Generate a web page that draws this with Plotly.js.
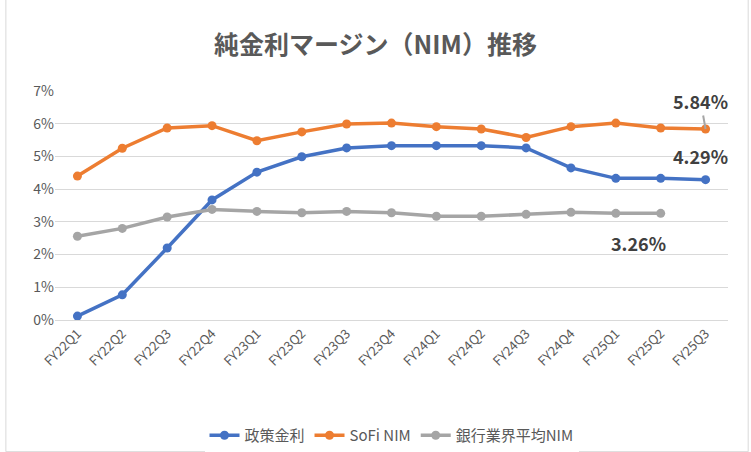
<!DOCTYPE html>
<html>
<head>
<meta charset="utf-8">
<script src="https://cdn.plot.ly/plotly-3.0.1.min.js"></script>
<style>body{margin:0;}#chart{width:751px;height:452px;}</style>
</head>
<body>
<div id="chart"></div>
<script>
const quarters = ['FY22Q1','FY22Q2','FY22Q3','FY22Q4','FY23Q1','FY23Q2','FY23Q3','FY23Q4','FY24Q1','FY24Q2','FY24Q3','FY24Q4','FY25Q1','FY25Q2','FY25Q3'];
const policyRate = [0.12,0.77,2.2,3.67,4.52,4.99,5.26,5.33,5.33,5.33,5.26,4.65,4.33,4.33,4.29];
const sofiNim = [4.4,5.25,5.87,5.94,5.48,5.75,5.99,6.02,5.91,5.84,5.58,5.91,6.02,5.87,5.84];
const bankNim = [2.56,2.8,3.15,3.38,3.32,3.28,3.32,3.28,3.17,3.17,3.23,3.29,3.26,3.26,null];

const font = {family: 'Noto Sans CJK JP, Noto Sans, sans-serif', color: '#595959'};

function series(name, y, color) {
    return {
        type: 'scatter', mode: 'lines+markers', name: name,
        x: quarters, y: y,
        line: {color: color, width: 3.5},
        marker: {color: color, size: 9}
    };
}

const data = [
    series('政策金利', policyRate, '#4472C4'),
    series('SoFi NIM', sofiNim, '#ED7D31'),
    series('銀行業界平均NIM', bankNim, '#A5A5A5')
];

const labelFont = {family: font.family, size: 18, color: '#404040', weight: 'bold'};

const layout = {
    width: 751, height: 452,
    paper_bgcolor: 'white', plot_bgcolor: 'white',
    font: font,
    title: {text: '<b>純金利マージン（NIM）推移</b>', font: {family: font.family, size: 25, color: '#595959'}, x: 0.5, y: 0.92},
    margin: {l: 55, r: 23, t: 91, b: 132},
    xaxis: {
        tickangle: -45, tickfont: {size: 13, color: '#595959'},
        showgrid: false, showline: true, linecolor: '#d9d9d9', range: [-0.5, 14.5]
    },
    yaxis: {
        range: [0, 7], dtick: 1, ticksuffix: '%',
        tickfont: {size: 14, color: '#595959'},
        gridcolor: '#d9d9d9', zeroline: false
    },
    showlegend: true,
    legend: {orientation: 'h', x: 0.5, xanchor: 'center', y: 0, yanchor: 'bottom', yref: 'container', font: {size: 15, color: '#595959'}},
    annotations: [
        {x: 14, y: sofiNim[14], text: sofiNim[14].toFixed(2) + '%', showarrow: true, ax: -5, ay: -28, arrowcolor: '#A5A5A5', arrowhead: 0, font: labelFont},
        {x: 14, y: policyRate[14], text: policyRate[14].toFixed(2) + '%', showarrow: false, yshift: 24, xshift: -5, font: labelFont},
        {x: 13, y: bankNim[13], text: bankNim[13].toFixed(2) + '%', showarrow: false, yshift: -30, xshift: -22, font: labelFont}
    ],
    shapes: [{type: 'rect', xref: 'paper', yref: 'paper', x0: -0.073, x1: 1.03, y0: -0.575, y1: 1.4, line: {color: '#d9d9d9', width: 1}}]
};

Plotly.newPlot('chart', data, layout, {displayModeBar: false});
</script>
</body>
</html>
